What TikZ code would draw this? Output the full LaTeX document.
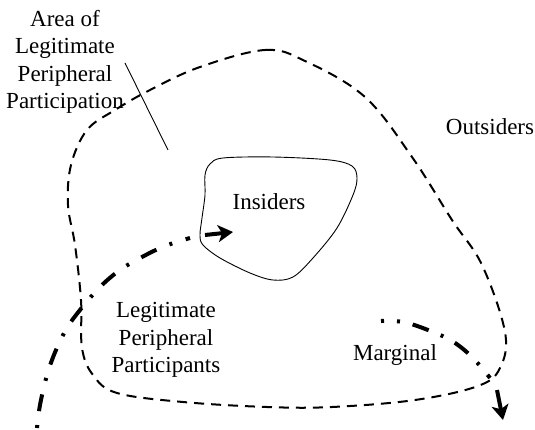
\documentclass[tikz,border=0pt]{standalone}
\usepackage{fontspec}
\setmainfont{Liberation Serif}
\usetikzlibrary{arrows.meta}
\begin{document}
\begin{tikzpicture}[x=1pt,y=-1pt,
  lbl/.style={font=\fontsize{23}{27.5}\selectfont,inner sep=0pt,align=center},
  boundary/.style={line width=2pt,dash pattern=on 10pt off 7pt},
  core/.style={line width=0.9pt},
  pointer/.style={line width=0.9pt},
  trajectory/.style={line width=4pt,dash pattern=on 3pt off 14pt on 17pt off 14pt},
  trajectoryB/.style={line width=4pt,dash pattern=on 17pt off 13pt on 3pt off 13pt,dash phase=14pt},
  tip/.style={line width=4pt,-{Stealth[length=15pt,width=17pt,inset=4pt]}}]
\useasboundingbox (0,0) rectangle (535,430);

% area of legitimate peripheral participation
\draw[boundary] plot[smooth cycle,tension=0.6] coordinates {
  (200,67) (265,50) (305,61) (365,97) (412,157) (452,220) (482,265)
  (505,332) (500,368) (478,386) (415,400) (332,407) (267,407) (183,402)
  (117,393) (93,375) (82,348) (81,300) (75,245) (68,205) (71,165)
  (87,130) (115,110) (150,90)};

% insiders region
\draw[core] plot[smooth cycle,tension=0.55] coordinates {
  (223,158) (273,157) (330,160) (352,166) (357,178) (353,195) (337,228)
  (313,258) (293,277) (273,280) (250,273) (220,258) (203,245) (200,235)
  (202,218) (205,195) (205,175) (210,164)};

% labels
\node[lbl] (area) at (65,62) {Area of\\Legitimate\\Peripheral\\Participation};
\node[lbl,anchor=base] (out) at (490,135) {Outsiders};
\node[lbl,anchor=base] (ins) at (269,210) {Insiders};
\node[lbl] (lpp) at (166,340) {Legitimate\\Peripheral\\Participants};
\node[lbl,anchor=base] (marg) at (395,360) {Marginal};

% pointer from the label to the boundary
\coordinate (p1) at (125,63);
\coordinate (p2) at (168,150);
\draw[pointer] (p1) -- (p2);

% inbound trajectory
\coordinate (a0) at (205,235);
\coordinate (a1) at (233,232);
\draw[trajectory] plot[smooth,tension=0.6] coordinates {
  (37,428) (40,405) (47,375) (56,350) (67,328) (80,310) (100,287)
  (120,270) (142,257) (165,246) (190,238)};
\draw[tip] (a0) -- (a1);

% marginal trajectory
\coordinate (b0) at (497,390);
\coordinate (b1) at (503,420);
\draw[trajectoryB] plot[smooth,tension=0.6] coordinates {
  (381,321) (403,322) (428,330) (452,341) (472,357) (490,378)};
\draw[tip] (b0) -- (b1);
\end{tikzpicture}
\end{document}
